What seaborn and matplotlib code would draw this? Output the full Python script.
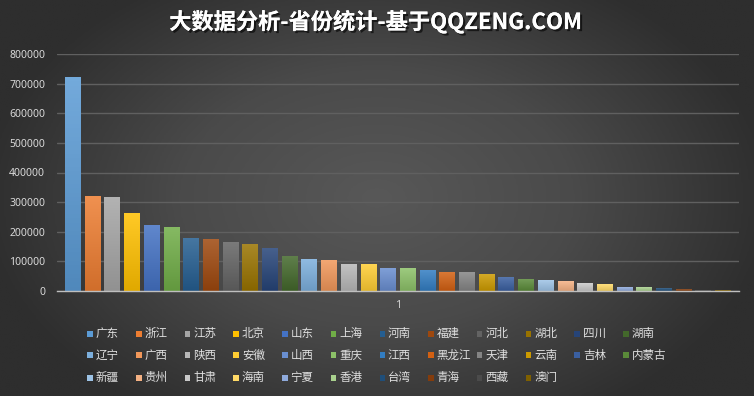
import numpy as np
import matplotlib
matplotlib.use("Agg")
import matplotlib.pyplot as plt
import matplotlib.colors as mcolors
import matplotlib.patheffects as pe
from matplotlib.patches import Rectangle
import seaborn as sns

# province counts
provinces = ["广东", "浙江", "江苏", "北京", "山东", "上海", "河南", "福建", "河北", "湖北", "四川", "湖南",
             "辽宁", "广西", "陕西", "安徽", "山西", "重庆", "江西", "黑龙江", "天津", "云南", "吉林", "内蒙古",
             "新疆", "贵州", "甘肃", "海南", "宁夏", "香港", "台湾", "青海", "西藏", "澳门"]
counts = [722000, 320500, 317000, 260000, 222000, 216000, 178000, 175000, 165000, 158000, 144500, 117000,
          107000, 104000, 90000, 90000, 77000, 77000, 70000, 63000, 63000, 56000, 46000, 39500,
          36000, 33000, 26000, 22500, 12400, 12000, 9000, 5600, 2500, 2500]
yticks = [0, 100000, 200000, 300000, 400000, 500000, 600000, 700000, 800000]
category_label = "1"
title = "大数据分析-省份统计-基于QQZENG.COM"

# excel style palette
colors = ["#5B9BD5", "#ED7D31", "#A5A5A5", "#FFC000", "#4472C4", "#70AD47",
          "#255E91", "#9E480E", "#636363", "#997300", "#264478", "#43682B",
          "#7CAFDD", "#F1975A", "#B7B7B7", "#FFCD33", "#698ED0", "#8CC168",
          "#327DC2", "#D26012", "#848484", "#CC9A00", "#3A5FA0", "#5A8A39",
          "#9DC3E6", "#F4B183", "#C9C9C9", "#FFD966", "#8FAADC", "#A9D18E",
          "#1F4E79", "#843C0C", "#4B4B4B", "#7F6000"]

sns.set_style("white")
plt.rcParams["font.family"] = ["Noto Sans CJK SC", "DejaVu Sans"]

W, H = 754, 396
fig = plt.figure(figsize=(W / 100, H / 100), dpi=100)

# dark radial background
bg = fig.add_axes([0, 0, 1, 1], zorder=-1)
yy, xx = np.mgrid[-1:1:200j, -1:1:400j]
r = np.sqrt((xx / 1.05) ** 2 + (yy / 1.3) ** 2)
bg.imshow(np.clip(r, 0, 1), cmap=mcolors.LinearSegmentedColormap.from_list("bg", ["#585858", "#4a4a4a", "#2e2e2e"]),
          aspect="auto", extent=[0, 1, 0, 1], vmin=0, vmax=1)
bg.axis("off")

ax = fig.add_axes([57 / W, 105 / H, (739 - 57) / W, (291 - 54) / H])
ax.set_facecolor("none")
sns.barplot(x=provinces, y=counts, hue=provinces, palette=colors, legend=False,
            width=0.8, ax=ax, saturation=1)

# gradient fill on each bar
for patch, c in zip(ax.patches, colors):
    x0, y0 = patch.get_x(), patch.get_y()
    w, h = patch.get_width(), patch.get_height()
    base = np.array(mcolors.to_rgb(c))
    top = base + (1 - base) * 0.15
    bot = base * 0.88
    t = np.linspace(0, 1, 50)[:, None]
    grad = top * (1 - t) + bot * t
    ax.imshow(grad[:, None, :], extent=[x0, x0 + w, y0, y0 + h], aspect="auto", zorder=2)
    patch.set_visible(False)

ax.set_xlim(-0.81, len(provinces) - 1 + 0.81)
ax.set_ylim(0, 800000)
ax.set_yticks(yticks)
ax.set_yticklabels([str(v) for v in yticks], color="#d9d9d9", fontsize=7.5, family="Noto Sans")
ax.tick_params(axis="y", length=0, pad=8.5)
ax.set_xticks([])
ax.set_xlabel("")
ax.grid(axis="y", color="#606060", linewidth=1)
ax.set_axisbelow(True)
for s in ["left", "right", "top"]:
    ax.spines[s].set_visible(False)
ax.spines["bottom"].set_color("#bfbfbf")
ax.spines["bottom"].set_linewidth(1)
ax.spines["bottom"].set_zorder(3)

fig.text(398 / W, 1 - 306 / H, category_label, color="#d9d9d9", fontsize=8, family="Noto Sans",
         ha="center", va="center")

# title with shadow
fig.text(376 / W, 1 - 22 / H, title, color="white", fontsize=16, fontweight="bold",
         ha="center", va="center",
         path_effects=[pe.withSimplePatchShadow(offset=(1.5, -1.5), shadow_rgbFace="black", alpha=0.6), pe.Normal()])

# legend laid out like excel: 12 fixed-width columns
rows_y = [333.5, 355, 377.5]
for i, (name, c) in enumerate(zip(provinces, colors)):
    row, col = divmod(i, 12)
    x = 87.3 + col * 48.7
    y = rows_y[row]
    fig.add_artist(Rectangle((x / W, 1 - (y + 3) / H), 5.5 / W, 6 / H, transform=fig.transFigure,
                             facecolor=c, edgecolor="none"))
    fig.text((x + 8.5) / W, 1 - y / H, name, color="#e0e0e0", fontsize=8.3, ha="left", va="center")

fig.savefig("out.png", dpi=100)
